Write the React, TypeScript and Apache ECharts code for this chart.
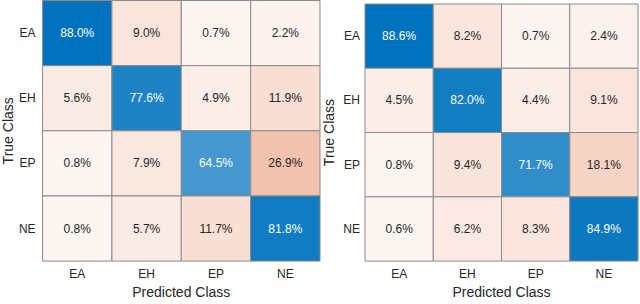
import React, { useEffect, useRef } from "react";
import * as echarts from "echarts";

const classes = ["EA", "EH", "EP", "NE"];
// rows = true class, columns = predicted class (percent)
const leftMatrix = [
  [88.0, 9.0, 0.7, 2.2],
  [5.6, 77.6, 4.9, 11.9],
  [0.8, 7.9, 64.5, 26.9],
  [0.8, 5.7, 11.7, 81.8],
];
const rightMatrix = [
  [88.6, 8.2, 0.7, 2.4],
  [4.5, 82.0, 4.4, 9.1],
  [0.8, 9.4, 71.7, 18.1],
  [0.6, 6.2, 8.3, 84.9],
];
const xTitle = "Predicted Class";
const yTitle = "True Class";

const BLUE = [0, 114, 189];
const RED = [217, 83, 25];

function mix(c: number[], t: number) {
  const r = Math.round(255 - t * (255 - c[0]));
  const g = Math.round(255 - t * (255 - c[1]));
  const b = Math.round(255 - t * (255 - c[2]));
  return `rgb(${r},${g},${b})`;
}

function buildData(m: number[][]) {
  let max = 0;
  m.forEach((row) => row.forEach((v) => (max = Math.max(max, v))));
  const out: any[] = [];
  m.forEach((row, i) =>
    row.forEach((v, j) => {
      out.push([j, i, v, i === j ? 1 : 0, v / max]);
    })
  );
  return out;
}

export default function App() {
  const ref = useRef<HTMLDivElement>(null);
  useEffect(() => {
    if (!ref.current) return;
    const chart = echarts.init(ref.current, undefined, { renderer: "svg" });
    const font = "'Liberation Sans', Arial, Helvetica, sans-serif";
    const grids = [
      { left: 38, top: 0.5, width: 282, height: 267.5 },
      { left: 365, top: 4, width: 273, height: 266 },
    ];
    const yGaps = [22, 29];
    const xGaps = [22, 20];
    const renderItem = (params: any, api: any) => {
      const x = api.value(0);
      const y = api.value(1);
      const v = api.value(2);
      const diag = api.value(3) === 1;
      const t = api.value(4);
      const c = api.coord([x, y]);
      const s = api.size([1, 1]);
      const w = s[0];
      const h = s[1];
      const tint = diag ? t : Math.min(1, 0.05 + t);
      return {
        type: "group",
        children: [
          {
            type: "rect",
            shape: { x: c[0] - w / 2, y: c[1] - h / 2, width: w, height: h },
            style: { fill: mix(diag ? BLUE : RED, tint), stroke: "#8a8a8a", lineWidth: 1 },
          },
          {
            type: "text",
            x: c[0],
            y: c[1],
            style: {
              text: v.toFixed(1) + "%",
              fontSize: 12,
              fontFamily: font,
              fill: diag && t > 0.5 ? "#ffffff" : "#262626",
              align: "center",
              verticalAlign: "middle",
            },
          },
        ],
      };
    };
    chart.setOption({
      animation: false,
      textStyle: { fontFamily: font },
      grid: grids,
      xAxis: grids.map((_, k) => ({
        type: "category",
        gridIndex: k,
        data: classes,
        name: xTitle,
        nameLocation: "middle",
        nameGap: xGaps[k],
        nameTextStyle: { fontSize: 14, color: "#262626", fontFamily: font },
        axisLine: { show: false },
        axisTick: { show: false },
        splitLine: { show: false },
        axisLabel: { fontSize: 12, color: "#262626", margin: 7, fontFamily: font },
      })),
      yAxis: grids.map((_, k) => ({
        type: "category",
        gridIndex: k,
        data: classes,
        inverse: true,
        name: yTitle,
        nameLocation: "middle",
        nameRotate: 90,
        nameGap: yGaps[k],
        nameTextStyle: { fontSize: 14, color: "#262626", fontFamily: font },
        axisLine: { show: false },
        axisTick: { show: false },
        splitLine: { show: false },
        axisLabel: { fontSize: 12, color: "#262626", margin: k === 0 ? 7 : 5, fontFamily: font },
      })),
      series: [leftMatrix, rightMatrix].map((m, k) => ({
        type: "custom",
        xAxisIndex: k,
        yAxisIndex: k,
        data: buildData(m),
        renderItem,
        encode: { x: 0, y: 1 },
        emphasis: { disabled: true },
      })),
    });
    return () => chart.dispose();
  }, []);
  return <div ref={ref} style={{ width: 640, height: 304, position: "absolute", left: 0, top: 0 }} />;
}
